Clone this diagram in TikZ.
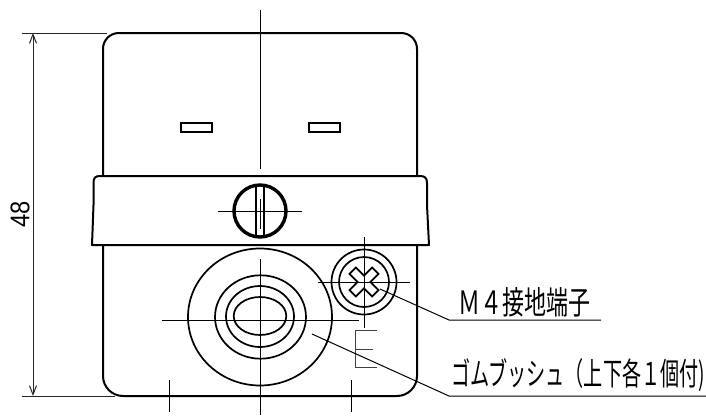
\documentclass[tikz,border=0pt]{standalone}
\usepackage{fontspec}
\setmainfont{Liberation Sans}
\newfontfamily\cjk{Noto Sans CJK JP}
\usetikzlibrary{arrows.meta}
\tikzset{
  outline/.style={draw=black,line width=2pt,line join=round},
  thick line/.style={draw=black,line width=3.4pt},
  medium/.style={draw=black,line width=1.7pt},
  center line/.style={draw=black,line width=1pt},
  dimension/.style={draw=black!85,line width=1pt},
  leader/.style={draw=black,line width=1pt},
  label text/.style={inner sep=0pt,anchor=west}
}
\begin{document}
\begin{tikzpicture}[x=1pt,y=-1pt]
\useasboundingbox (0,0) rectangle (706,415);
\fill[white] (0,0) rectangle (706,415);
% body
\draw[outline] (103,176) -- (103,49) .. controls (103,40) and (110,33) .. (119,33) -- (401,33) .. controls (410,33) and (417,40) .. (417,49) -- (417,176);
\draw[outline] (103,245) -- (103,376) .. controls (103,387) and (112,396) .. (123,396) -- (397,396) .. controls (408,396) and (417,387) .. (417,376) -- (417,245);
% band
\draw[outline] (92,245) -- (93.5,205) -- (93.5,183) .. controls (93.5,178) and (95,176) .. (100,176) -- (420,176) .. controls (425,176) and (427,178) .. (427,183) -- (427,205) -- (429,245) -- cycle;
% slots
\draw[medium] (181,123) rectangle (212,132);
\draw[medium] (309,123) rectangle (340,132);
% band screw
\draw[thick line] (260,211) circle[radius=26];
\draw[medium] (256,185.5) -- (256,236.5);
\draw[medium] (264,185.5) -- (264,236.5);
\draw[center line] (260,199) -- (260,229);
\draw[center line] (218,211) -- (302,211);
\draw[center line] (260,10) -- (260,169);
% bush
\draw[medium] (260,317) ellipse[x radius=72,y radius=68.5];
\draw[medium] (260.5,317) ellipse[x radius=45.5,y radius=41.7];
\draw[medium] (260,316.5) ellipse[x radius=34,y radius=30.5];
\draw[medium] (260,316) ellipse[x radius=26.3,y radius=19];
\draw[center line] (260,259) -- (260,415);
\draw[center line] (162,320) -- (359,320);
% ground screw
\draw[medium] (364,282) circle[radius=32.5];
\draw[medium] (364,282) circle[radius=25];
\draw[medium,rotate around={45:(364,282)}] (359.5,266) -- (368.5,266) -- (368.5,277.5) -- (380,277.5) -- (380,286.5) -- (368.5,286.5) -- (368.5,298) -- (359.5,298) -- (359.5,286.5) -- (348,286.5) -- (348,277.5) -- (359.5,277.5) -- cycle;
\draw[center line] (364,237) -- (364,328);
\draw[center line] (318,282) -- (410,282);
% E mark
\draw[black!75,line width=1pt] (377,330) -- (355,330) -- (355,367) -- (377,367) (355,349) -- (373,349);
% bottom ticks
\draw[center line] (169,380) -- (169,412);
\draw[center line] (351,380) -- (351,412);
% dimension
\draw[dimension] (22,33) -- (107,33);
\draw[dimension] (22,396) -- (115,396);
\draw[dimension,{Straight Barb[length=9pt,width=7pt,line width=1pt]}-{Straight Barb[length=9pt,width=7pt,line width=1pt]}] (33,33) -- (33,396);
\node[inner sep=0pt,rotate=90] (dimlabel) at (20,214.5) {\scalebox{0.88}[1]{\fontsize{27}{27}\selectfont 48}};
% labels
\node[label text] (groundlabel) at (458,302) {\resizebox{132pt}{27pt}{\cjk Ｍ４接地端子}};
\node[label text] (bushlabel) at (451,375) {\resizebox{254pt}{27pt}{\cjk ゴムブッシュ（上下各１個付)}};
% leaders
\coordinate (g0) at (380,289);
\coordinate (g1) at (449,320);
\coordinate (g2) at (601,320);
\coordinate (b0) at (312,334);
\coordinate (b1) at (449,396);
\coordinate (b2) at (706,396);
\draw[leader] (g0) -- (g1) -- (g2);
\draw[leader] (b0) -- (b1) -- (b2);
\end{tikzpicture}
\end{document}
